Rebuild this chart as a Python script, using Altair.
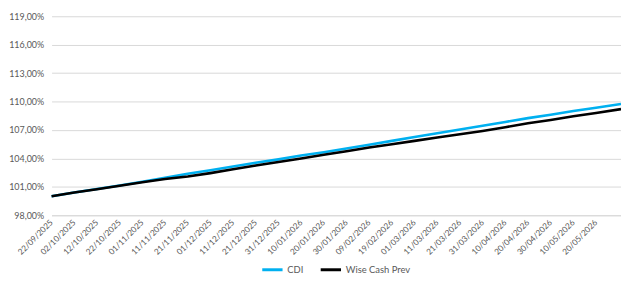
import altair as alt
import pandas as pd

dates = ["2025-09-22", "2025-10-02", "2025-10-12", "2025-10-22", "2025-11-01",
         "2025-11-11", "2025-11-21", "2025-12-01", "2025-12-11", "2025-12-21",
         "2025-12-31", "2026-01-10", "2026-01-20", "2026-01-30", "2026-02-09",
         "2026-02-19", "2026-03-01", "2026-03-11", "2026-03-21", "2026-03-31",
         "2026-04-10", "2026-04-20", "2026-04-30", "2026-05-10", "2026-05-20",
         "2026-05-31"]
cdi = [100.00, 100.40, 100.78, 101.15, 101.55, 101.95, 102.38, 102.75, 103.15, 103.55,
       103.90, 104.30, 104.65, 105.05, 105.45, 105.85, 106.25, 106.65, 107.05, 107.45,
       107.85, 108.25, 108.60, 109.00, 109.35, 109.75]
wise = [100.00, 100.40, 100.75, 101.12, 101.48, 101.82, 102.10, 102.45, 102.85, 103.25,
        103.62, 104.00, 104.38, 104.75, 105.15, 105.50, 105.85, 106.20, 106.55, 106.90,
        107.30, 107.70, 108.05, 108.45, 108.80, 109.20]
series_names = ["CDI", "Wise Cash Prev"]
series_colors = ["#00B0F0", "#000000"]
tick_dates = dates[:-1]
y_ticks = [98, 101, 104, 107, 110, 113, 116, 119]

rows = []
for d, a, b in zip(dates, cdi, wise):
    rows.append({"date": d, "series": "CDI", "value": a})
    rows.append({"date": d, "series": "Wise Cash Prev", "value": b})
df = pd.DataFrame(rows)

def dt(s):
    y, m, d = s.split("-")
    return alt.DateTime(year=int(y), month=int(m), date=int(d), utc=True)

x_enc = alt.X("date:T",
              scale=alt.Scale(type="utc", domain=[dt(dates[0]), dt(dates[-1])]),
              axis=alt.Axis(values=[dt(s) for s in tick_dates], format="%d/%m/%Y",
                            labelAngle=-45, labelAlign="right", labelBaseline="middle",
                            labelPadding=6, grid=False, ticks=False, domain=True,
                            domainColor="#D9D9D9", title=None, labelOverlap=False,
                            labelFlush=False, labelFontSize=8.3))
y_enc = alt.Y("value:Q",
              scale=alt.Scale(domain=[98, 119], nice=False, zero=False),
              axis=alt.Axis(values=y_ticks,
                            labelExpr="replace(format(datum.value, '.2f'), '.', ',') + '%'",
                            grid=True, gridColor="#D9D9D9", ticks=False, domain=False,
                            title=None, labelPadding=8, labelFontSize=9))
color_enc = alt.Color("series:N",
                      scale=alt.Scale(domain=series_names, range=series_colors),
                      legend=alt.Legend(title=None, orient="none", direction="horizontal",
                                        legendX=211, legendY=244, symbolType="stroke",
                                        symbolStrokeWidth=3, symbolSize=420,
                                        labelFontSize=9.5, labelColor="#595959",
                                        columnPadding=10, labelOffset=3))

base = alt.Chart(df)
l1 = base.transform_filter(alt.datum.series == "CDI").mark_line(strokeWidth=2.6).encode(
    x=x_enc, y=y_enc, color=color_enc)
l2 = base.transform_filter(alt.datum.series == "Wise Cash Prev").mark_line(strokeWidth=2.6).encode(
    x=x_enc, y=y_enc, color=color_enc)

chart = alt.layer(l1, l2).properties(
    width=575, height=201,
    autosize=alt.AutoSizeParams(type="none"),
    padding={"left": 44, "top": 7, "right": 0, "bottom": 63},
).configure_view(stroke=None).configure_axis(
    labelFont="Lato", labelColor="#595959"
).configure_legend(labelFont="Lato")

chart.save("out.html", embed_options={"renderer": "svg", "actions": False})
